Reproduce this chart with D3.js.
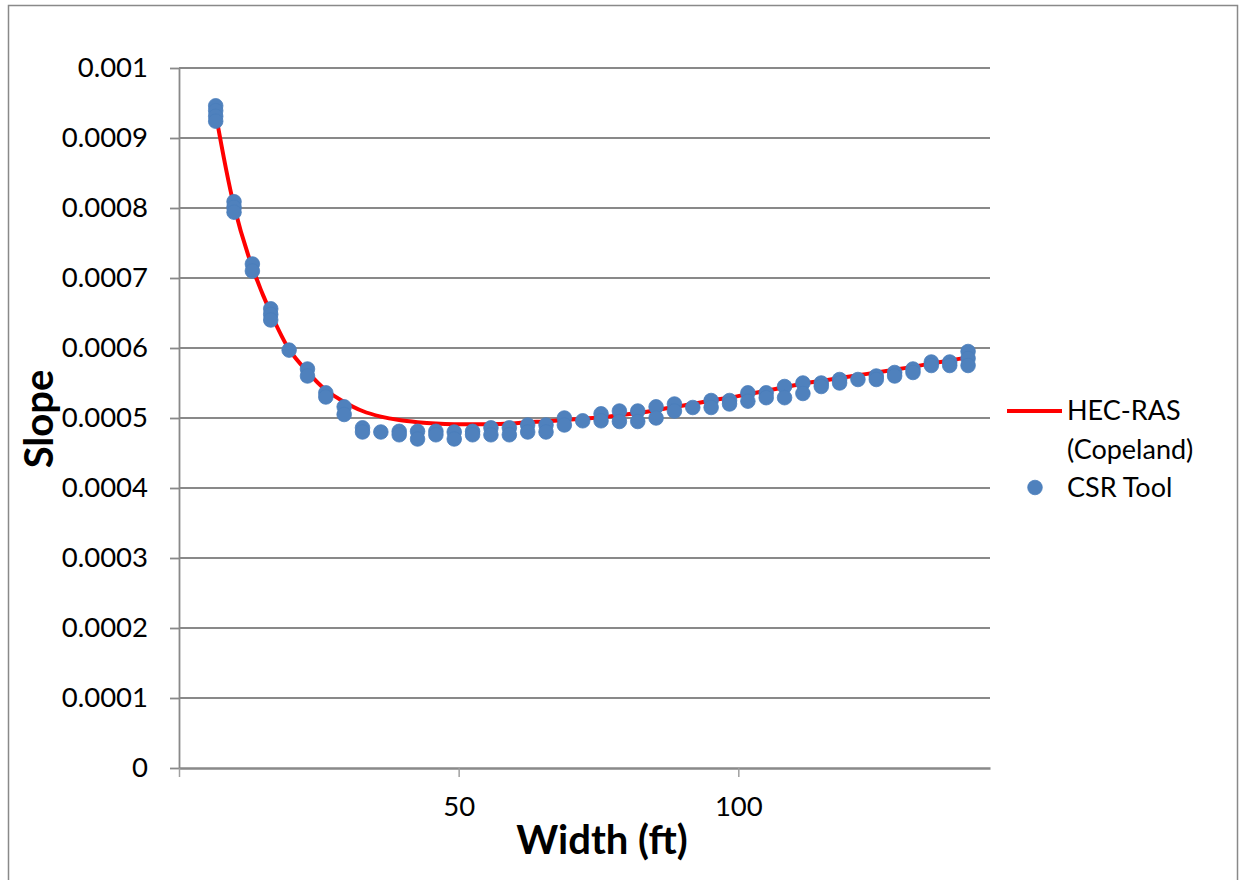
<!DOCTYPE html>
<html>
<head>
<meta charset="utf-8">
<script src="https://cdn.jsdelivr.net/npm/d3@7"></script>
<style>
  html, body { margin: 0; padding: 0; background: #fff; }
  svg { display: block; font-family: Lato, "Open Sans", sans-serif; }
</style>
</head>
<body>
<svg id="chart" width="1239" height="880"></svg>
<script>
// Channel width (ft) -- one column of CSR Tool points per width
const widthFt = [6.56, 9.84, 13.12, 16.40, 19.69, 22.97, 26.25, 29.53, 32.81, 36.09,
  39.37, 42.65, 45.93, 49.21, 52.49, 55.77, 59.06, 62.34, 65.62, 68.90,
  72.18, 75.46, 78.74, 82.02, 85.30, 88.58, 91.86, 95.14, 98.43, 101.71,
  104.99, 108.27, 111.55, 114.83, 118.11, 121.39, 124.67, 127.95, 131.23, 134.51,
  137.80, 141.08];

// HEC-RAS (Copeland) slope at each width
const hecRasSlope = [0.000935, 0.000803, 0.000715, 0.000650, 0.000598, 0.000566, 0.000540, 0.000523, 0.000510, 0.000502,
  0.000497, 0.000494, 0.000492, 0.000491, 0.000491, 0.000491, 0.000492, 0.000494, 0.000495, 0.000497,
  0.000499, 0.000501, 0.000504, 0.000507, 0.000511, 0.000516, 0.000520, 0.000525, 0.000529, 0.000534,
  0.000539, 0.000544, 0.000549, 0.000553, 0.000557, 0.000561, 0.000565, 0.000569, 0.000573, 0.000578,
  0.000582, 0.000587];

// CSR Tool slopes: several runs per width, stacked vertically
const csrSlopes = [
  [0.000946, 0.000939, 0.000931, 0.000924],
  [0.000809, 0.000801, 0.000794],
  [0.000720, 0.000710],
  [0.000656, 0.000648, 0.000640],
  [0.000597],
  [0.000570, 0.000560],
  [0.000536, 0.000530],
  [0.000516, 0.000505],
  [0.000486, 0.000480],
  [0.000480],
  [0.000481, 0.000476],
  [0.000481, 0.000470],
  [0.000481, 0.000476],
  [0.000480, 0.000470],
  [0.000481, 0.000476],
  [0.000486, 0.000476],
  [0.000486, 0.000476],
  [0.000490, 0.000480],
  [0.000490, 0.000480],
  [0.000500, 0.000490],
  [0.000496],
  [0.000506, 0.000496],
  [0.000510, 0.000495],
  [0.000510, 0.000495],
  [0.000516, 0.000500],
  [0.000520, 0.000510],
  [0.000515],
  [0.000525, 0.000515],
  [0.000525, 0.000520],
  [0.000536, 0.000524],
  [0.000536, 0.000529],
  [0.000545, 0.000529],
  [0.000550, 0.000535],
  [0.000550, 0.000545],
  [0.000555, 0.000550],
  [0.000555],
  [0.000560, 0.000555],
  [0.000565, 0.000560],
  [0.000570, 0.000565],
  [0.000580, 0.000575],
  [0.000580, 0.000575],
  [0.000595, 0.000585, 0.000575]
];

const yTicks = [0, 0.0001, 0.0002, 0.0003, 0.0004, 0.0005, 0.0006, 0.0007, 0.0008, 0.0009, 0.001];
const xTicks = [0, 50, 100];
const seriesNames = ['HEC-RAS', '(Copeland)', 'CSR Tool'];

const svg = d3.select('#chart');
const plot = { left: 179, top: 68, right: 990, bottom: 768 };
const grey = '#898989';

// outer chart border (bottom edge runs off the picture)
svg.append('rect')
  .attr('x', 8.5).attr('y', 5.5)
  .attr('width', 1229).attr('height', 900)
  .attr('fill', 'none').attr('stroke', grey).attr('stroke-width', 1.5);

const x = d3.scaleLinear().domain([0, 145]).range([plot.left, plot.right]);
const y = d3.scaleLinear().domain([0, 0.001]).range([plot.bottom, plot.top]);

// horizontal gridlines
svg.append('g')
  .selectAll('line')
  .data(yTicks.filter((d) => d > 0))
  .join('line')
  .attr('x1', plot.left).attr('x2', plot.right)
  .attr('y1', (d) => y(d)).attr('y2', (d) => y(d))
  .attr('stroke', grey).attr('stroke-width', 1.8);

// y axis
const yAxis = svg.append('g')
  .attr('transform', `translate(${plot.left},0)`)
  .call(d3.axisLeft(y).tickValues(yTicks).tickSize(9).tickSizeOuter(0).tickPadding(22)
    .tickFormat((d) => (d === 0 ? '0' : d3.format('.4~f')(d))));
yAxis.select('.domain').attr('stroke', grey).attr('stroke-width', 1.8);
yAxis.selectAll('.tick line').attr('stroke', grey).attr('stroke-width', 1.8);
yAxis.selectAll('.tick text')
  .attr('font-size', 27.5).attr('fill', '#000').attr('font-family', 'Lato, sans-serif');

// x axis
const xAxis = svg.append('g')
  .attr('transform', `translate(0,${plot.bottom})`)
  .call(d3.axisBottom(x).tickValues(xTicks).tickSize(9).tickSizeOuter(0).tickPadding(19)
    .tickFormat((d) => (d === 0 ? '' : d)));
xAxis.select('.domain').attr('stroke', grey).attr('stroke-width', 2.5);
xAxis.selectAll('.tick line').attr('stroke', '#a0a0a0').attr('stroke-width', 1.5);
xAxis.selectAll('.tick text')
  .attr('font-size', 27.5).attr('fill', '#000').attr('font-family', 'Lato, sans-serif');

// axis titles
svg.append('text')
  .attr('x', 602).attr('y', 854)
  .attr('text-anchor', 'middle')
  .attr('font-size', 40).attr('font-weight', 'bold')
  .text('Width (ft)');

svg.append('text')
  .attr('transform', 'translate(53,419) rotate(-90)')
  .attr('text-anchor', 'middle')
  .attr('font-size', 40).attr('font-weight', 'bold')
  .text('Slope');

// HEC-RAS line
const line = d3.line()
  .x((d, i) => x(widthFt[i]))
  .y((d) => y(d))
  .curve(d3.curveCatmullRom.alpha(0.5));

svg.append('path')
  .datum(hecRasSlope)
  .attr('d', line)
  .attr('fill', 'none')
  .attr('stroke', '#ff0000')
  .attr('stroke-width', 4);

// CSR Tool points
const pts = csrSlopes.flatMap((col, i) => col.map((s) => ({ w: widthFt[i], s })));
svg.append('g')
  .selectAll('circle')
  .data(pts)
  .join('circle')
  .attr('cx', (d) => x(d.w))
  .attr('cy', (d) => y(d.s))
  .attr('r', 7.3)
  .attr('fill', '#4f81bd')
  .attr('stroke', '#4a7ebb')
  .attr('stroke-width', 0.8);

// legend
const legend = svg.append('g').attr('font-size', 27);
legend.append('line')
  .attr('x1', 1007).attr('x2', 1062).attr('y1', 411).attr('y2', 411)
  .attr('stroke', '#ff0000').attr('stroke-width', 4);
legend.append('text').attr('x', 1067).attr('y', 420).text(seriesNames[0]);
legend.append('text').attr('x', 1067).attr('y', 459).text(seriesNames[1]);
legend.append('circle')
  .attr('cx', 1035).attr('cy', 487.5).attr('r', 7.3)
  .attr('fill', '#4f81bd').attr('stroke', '#4a7ebb').attr('stroke-width', 0.8);
legend.append('text').attr('x', 1067).attr('y', 497).text(seriesNames[2]);
</script>
</body>
</html>
